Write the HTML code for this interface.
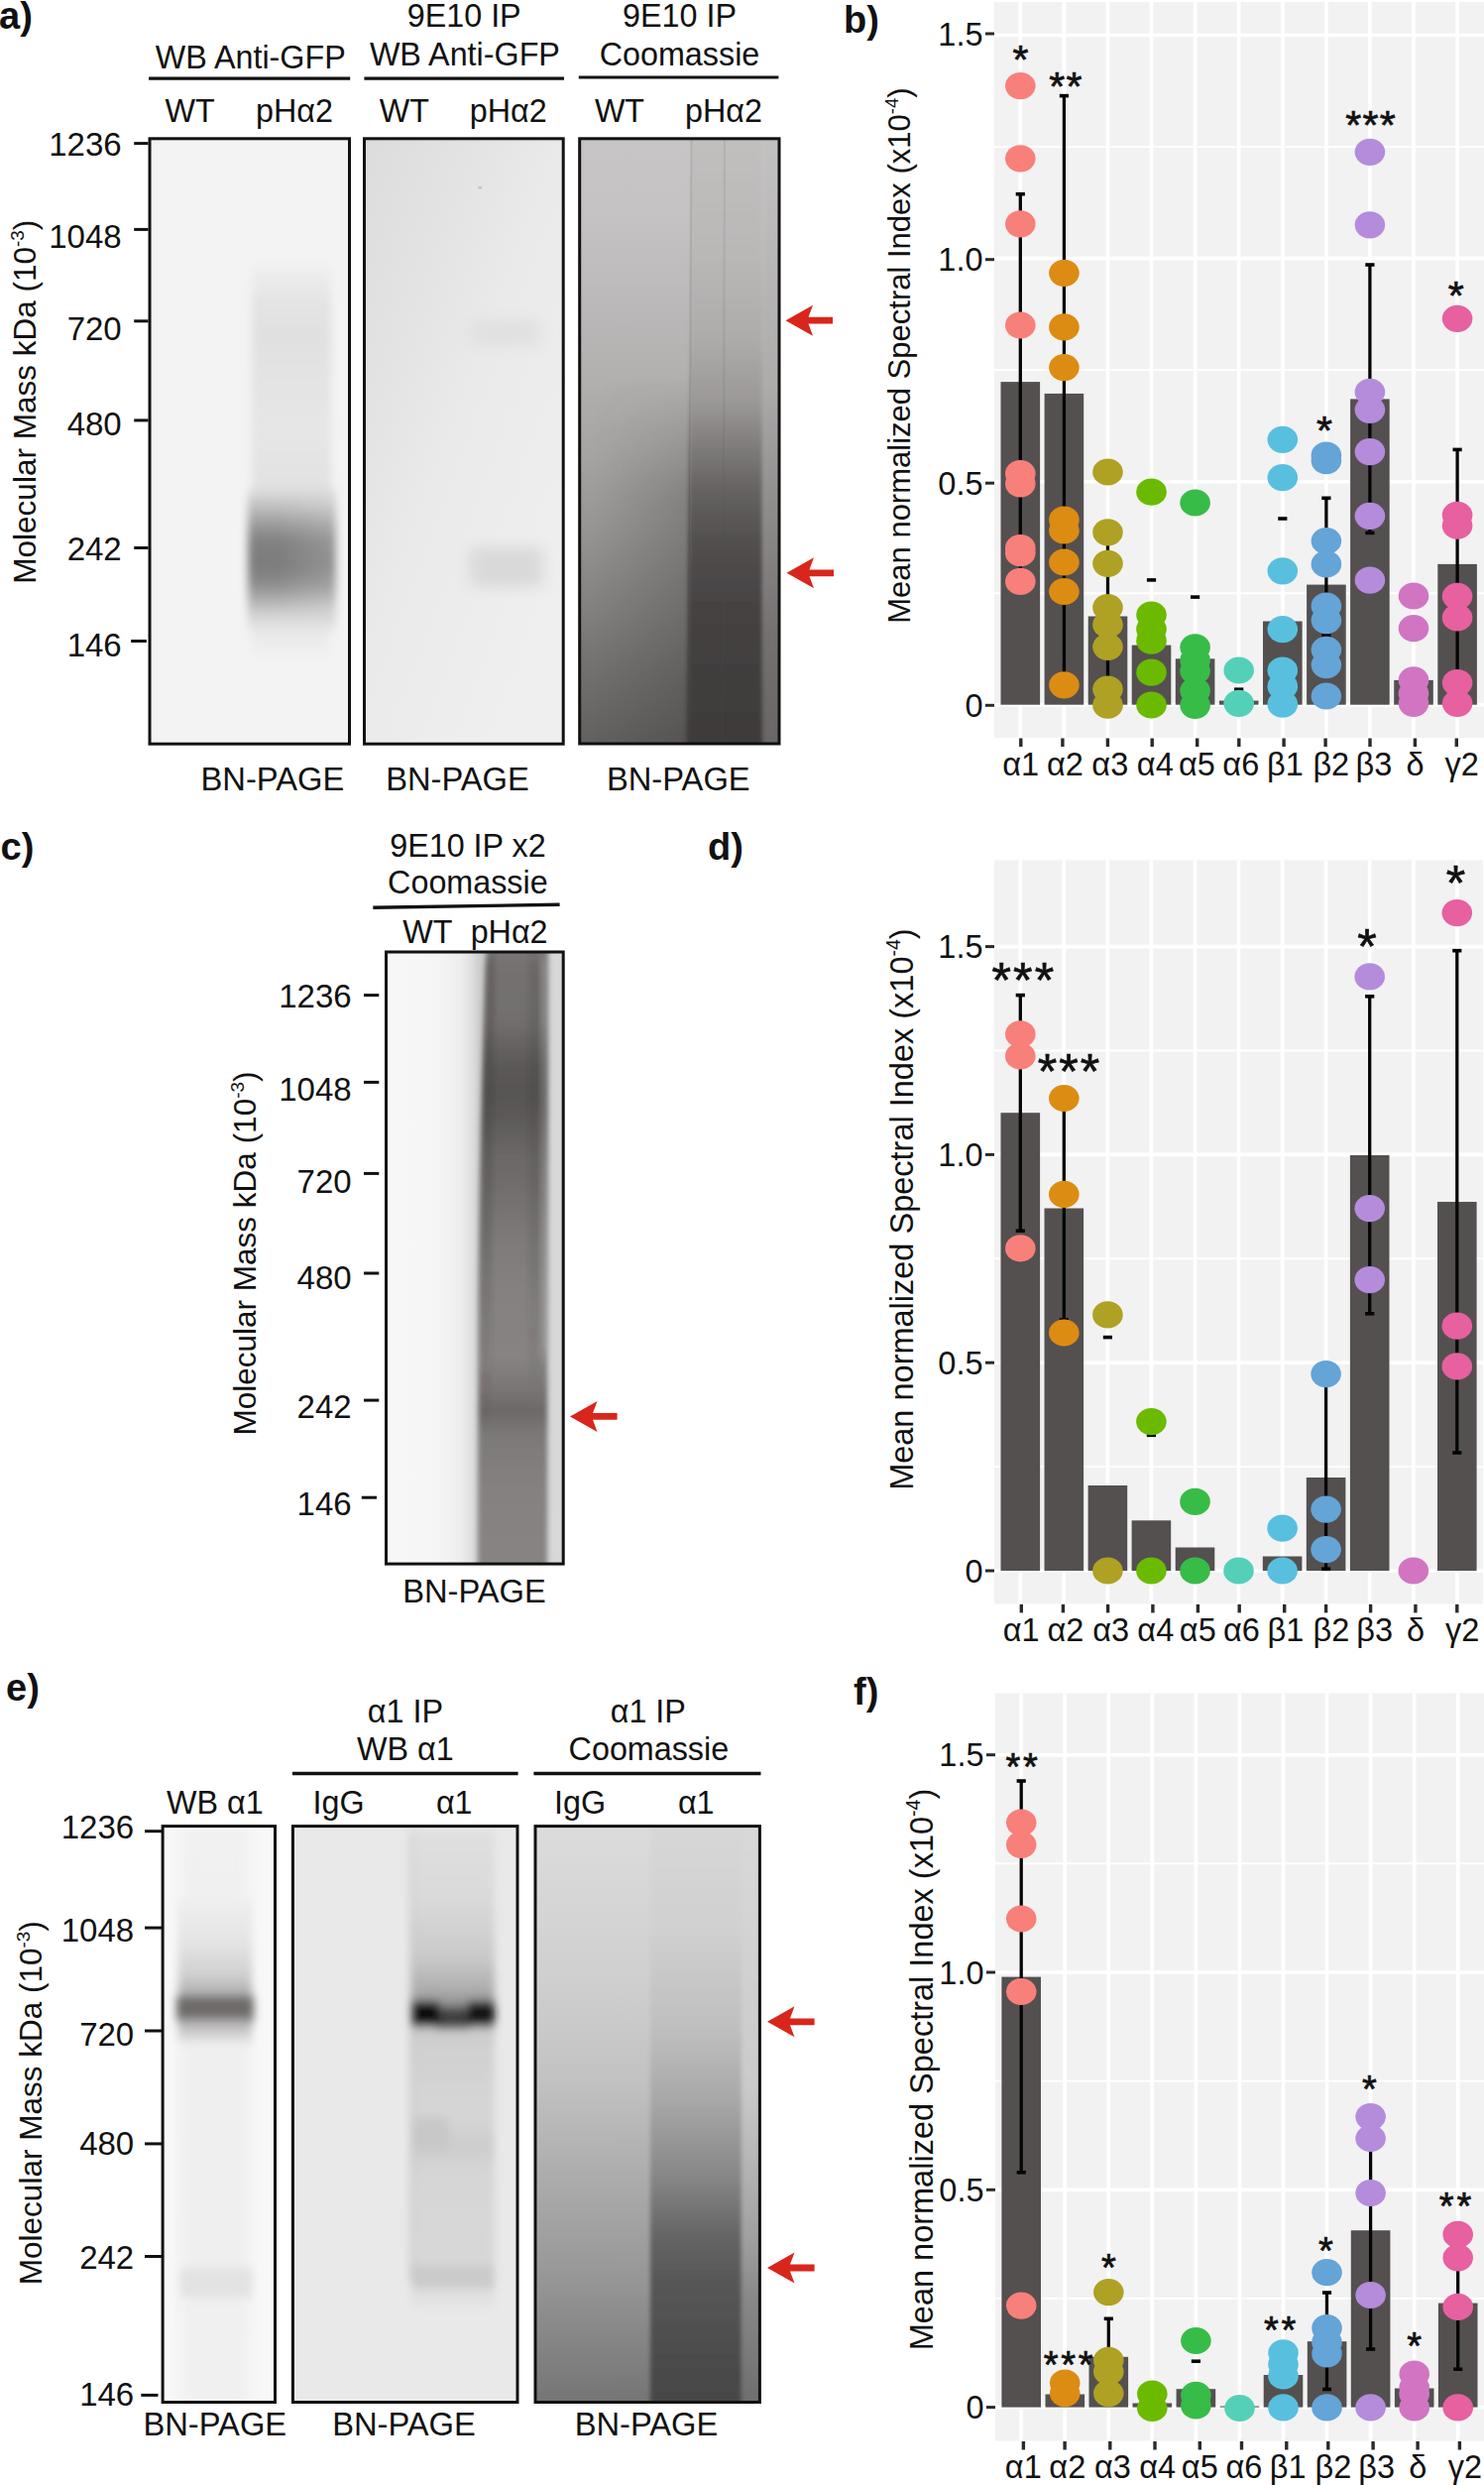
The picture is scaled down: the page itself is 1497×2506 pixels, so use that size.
<!DOCTYPE html>
<html><head><meta charset="utf-8"><title>Figure</title>
<style>
html,body{margin:0;padding:0;background:#fff;}
svg{display:block;}
text{font-family:"Liberation Sans", sans-serif;}
</style></head><body>
<svg width="1497" height="2506" viewBox="0 0 1497 2506">
<defs><clipPath id="c1"><rect x="151.5" y="140.3" width="200.5" height="609.4000000000001"/></clipPath><filter id="f2" x="-50%" y="-50%" width="200%" height="200%"><feGaussianBlur stdDeviation="4 6"/></filter><linearGradient id="g3" x1="0" y1="0" x2="0" y2="1"><stop offset="0" stop-color="#EFEFEF" stop-opacity="1"/><stop offset="0.15" stop-color="#E4E4E4" stop-opacity="1"/><stop offset="0.3" stop-color="#E0E0E0" stop-opacity="1"/><stop offset="0.45" stop-color="#E3E3E3" stop-opacity="1"/><stop offset="0.7" stop-color="#E6E6E6" stop-opacity="1"/><stop offset="1" stop-color="#E0E0E0" stop-opacity="1"/></linearGradient><linearGradient id="g4" x1="0" y1="0" x2="0" y2="1"><stop offset="0" stop-color="#DADADA" stop-opacity="1"/><stop offset="0.12" stop-color="#BEBEBE" stop-opacity="1"/><stop offset="0.25" stop-color="#999999" stop-opacity="1"/><stop offset="0.37" stop-color="#808080" stop-opacity="1"/><stop offset="0.55" stop-color="#7C7C7C" stop-opacity="1"/><stop offset="0.68" stop-color="#8E8E8E" stop-opacity="1"/><stop offset="0.8" stop-color="#B4B4B4" stop-opacity="1"/><stop offset="0.9" stop-color="#D4D4D4" stop-opacity="1"/><stop offset="1" stop-color="#E6E6E6" stop-opacity="1"/></linearGradient><linearGradient id="g5" x1="0" y1="0" x2="0" y2="1"><stop offset="0" stop-color="#E6E6E6" stop-opacity="1"/><stop offset="1" stop-color="#F1F1F1" stop-opacity="1"/></linearGradient><linearGradient id="g6" x1="0" y1="0" x2="1" y2="0"><stop offset="0" stop-color="#FFFFFF" stop-opacity="0"/><stop offset="1" stop-color="#FFFFFF" stop-opacity="0.18"/></linearGradient><clipPath id="c7"><rect x="368" y="140.3" width="199.70000000000005" height="609.4000000000001"/></clipPath><linearGradient id="g8" x1="0" y1="0" x2="0.8" y2="0.9"><stop offset="0" stop-color="#DCDCDC" stop-opacity="1"/><stop offset="0.3" stop-color="#E3E3E3" stop-opacity="1"/><stop offset="0.55" stop-color="#EAEAEA" stop-opacity="1"/><stop offset="1" stop-color="#EFEFEF" stop-opacity="1"/></linearGradient><filter id="f9" x="-50%" y="-50%" width="200%" height="200%"><feGaussianBlur stdDeviation="8 7"/></filter><clipPath id="c10"><rect x="585.2" y="140.3" width="200.29999999999995" height="609.2"/></clipPath><linearGradient id="g11" x1="0" y1="0" x2="0" y2="1"><stop offset="0" stop-color="#C7C5C5" stop-opacity="1"/><stop offset="0.12" stop-color="#C5C3C3" stop-opacity="1"/><stop offset="0.24" stop-color="#BDBBBB" stop-opacity="1"/><stop offset="0.4" stop-color="#B2AFAF" stop-opacity="1"/><stop offset="0.52" stop-color="#A6A3A3" stop-opacity="1"/><stop offset="0.64" stop-color="#979494" stop-opacity="1"/><stop offset="0.76" stop-color="#858282" stop-opacity="1"/><stop offset="0.88" stop-color="#726F6F" stop-opacity="1"/><stop offset="1" stop-color="#625F5F" stop-opacity="1"/></linearGradient><filter id="f12" x="-50%" y="-50%" width="200%" height="200%"><feGaussianBlur stdDeviation="2 3"/></filter><linearGradient id="g13" x1="0" y1="0" x2="0" y2="1"><stop offset="0" stop-color="#C2BFBF" stop-opacity="1"/><stop offset="0.2" stop-color="#BAB7B7" stop-opacity="1"/><stop offset="0.33" stop-color="#AEABAB" stop-opacity="1"/><stop offset="0.43" stop-color="#9C9898" stop-opacity="1"/><stop offset="0.5" stop-color="#807C7C" stop-opacity="1"/><stop offset="0.57" stop-color="#666262" stop-opacity="1"/><stop offset="0.65" stop-color="#534F4F" stop-opacity="1"/><stop offset="0.75" stop-color="#474343" stop-opacity="1"/><stop offset="0.88" stop-color="#413D3D" stop-opacity="1"/><stop offset="1" stop-color="#3D3939" stop-opacity="1"/></linearGradient><linearGradient id="g14" x1="0" y1="0" x2="0" y2="1"><stop offset="0" stop-color="#C4C2C2" stop-opacity="1"/><stop offset="0.4" stop-color="#AEABAB" stop-opacity="1"/><stop offset="0.6" stop-color="#8E8B8B" stop-opacity="1"/><stop offset="0.8" stop-color="#747070" stop-opacity="1"/><stop offset="1" stop-color="#686464" stop-opacity="1"/></linearGradient><linearGradient id="g16" x1="0" y1="0" x2="0" y2="1"><stop offset="0" stop-color="#000000" stop-opacity="1"/><stop offset="0.3" stop-color="#FFFFFF" stop-opacity="1"/><stop offset="1" stop-color="#FFFFFF" stop-opacity="1"/></linearGradient><mask id="m15" maskUnits="userSpaceOnUse" x="580" y="380" width="130" height="400"><rect x="580" y="380" width="130" height="400" fill="url(#g16)"/></mask><linearGradient id="g17" x1="0" y1="0" x2="1" y2="0"><stop offset="0" stop-color="#2A2626" stop-opacity="0"/><stop offset="1" stop-color="#2A2626" stop-opacity="0.22"/></linearGradient><clipPath id="c18"><rect x="390" y="960.5" width="177.70000000000005" height="616.0999999999999"/></clipPath><linearGradient id="g19" x1="0" y1="0" x2="1" y2="0"><stop offset="0" stop-color="#F8F8F8" stop-opacity="1"/><stop offset="0.3" stop-color="#F5F5F5" stop-opacity="1"/><stop offset="0.42" stop-color="#EEEEEE" stop-opacity="1"/><stop offset="0.48" stop-color="#E0E0E0" stop-opacity="1"/><stop offset="0.52" stop-color="#CFCFCF" stop-opacity="1"/><stop offset="0.6" stop-color="#C8C8C8" stop-opacity="1"/><stop offset="0.88" stop-color="#D4D4D4" stop-opacity="1"/><stop offset="1" stop-color="#DADADA" stop-opacity="1"/></linearGradient><filter id="f20" x="-50%" y="-50%" width="200%" height="200%"><feGaussianBlur stdDeviation="2.5 4"/></filter><linearGradient id="g21" x1="0" y1="0" x2="0" y2="1"><stop offset="0" stop-color="#7A7676" stop-opacity="1"/><stop offset="0.06" stop-color="#747070" stop-opacity="1"/><stop offset="0.125" stop-color="#726E6E" stop-opacity="1"/><stop offset="0.1875" stop-color="#5E5A5A" stop-opacity="1"/><stop offset="0.234" stop-color="#585454" stop-opacity="1"/><stop offset="0.281" stop-color="#5E5A5A" stop-opacity="1"/><stop offset="0.328" stop-color="#6A6666" stop-opacity="1"/><stop offset="0.39" stop-color="#726E6E" stop-opacity="1"/><stop offset="0.469" stop-color="#7E7A7A" stop-opacity="1"/><stop offset="0.547" stop-color="#858181" stop-opacity="1"/><stop offset="0.656" stop-color="#878383" stop-opacity="1"/><stop offset="0.703" stop-color="#7A7676" stop-opacity="1"/><stop offset="0.74" stop-color="#6C6868" stop-opacity="1"/><stop offset="0.773" stop-color="#7C7878" stop-opacity="1"/><stop offset="0.86" stop-color="#858181" stop-opacity="1"/><stop offset="1" stop-color="#888484" stop-opacity="1"/></linearGradient><filter id="f22" x="-50%" y="-50%" width="200%" height="200%"><feGaussianBlur stdDeviation="2 6"/></filter><linearGradient id="g23" x1="0" y1="0" x2="0" y2="1"><stop offset="0" stop-color="#3A3636" stop-opacity="0.25"/><stop offset="0.6" stop-color="#3A3636" stop-opacity="0.2"/><stop offset="1" stop-color="#3A3636" stop-opacity="0"/></linearGradient><linearGradient id="g24" x1="0" y1="0" x2="0" y2="1"><stop offset="0" stop-color="#3A3636" stop-opacity="0.15"/><stop offset="0.7" stop-color="#3A3636" stop-opacity="0.12"/><stop offset="1" stop-color="#3A3636" stop-opacity="0"/></linearGradient><clipPath id="c25"><rect x="164.6" y="1842.1" width="112.4" height="579.9000000000001"/></clipPath><filter id="f26" x="-50%" y="-50%" width="200%" height="200%"><feGaussianBlur stdDeviation="7 3"/></filter><linearGradient id="g27" x1="0" y1="0" x2="0" y2="1"><stop offset="0" stop-color="#F1F1F1" stop-opacity="1"/><stop offset="0.6" stop-color="#EFEFEF" stop-opacity="1"/><stop offset="1" stop-color="#F1F1F1" stop-opacity="1"/></linearGradient><filter id="f28" x="-50%" y="-50%" width="200%" height="200%"><feGaussianBlur stdDeviation="4 5"/></filter><linearGradient id="g29" x1="0" y1="0" x2="0" y2="1"><stop offset="0" stop-color="#EFEFEF" stop-opacity="1"/><stop offset="0.4" stop-color="#E4E4E4" stop-opacity="1"/><stop offset="0.7" stop-color="#D0D0D0" stop-opacity="1"/><stop offset="0.88" stop-color="#ACACAC" stop-opacity="1"/><stop offset="1" stop-color="#8A8686" stop-opacity="1"/></linearGradient><linearGradient id="g30" x1="0" y1="0" x2="0" y2="1"><stop offset="0" stop-color="#A8A6A6" stop-opacity="1"/><stop offset="1" stop-color="#EFEFEF" stop-opacity="1"/></linearGradient><clipPath id="c31"><rect x="295.9" y="1842.1" width="225.60000000000002" height="579.9000000000001"/></clipPath><filter id="f32" x="-50%" y="-50%" width="200%" height="200%"><feGaussianBlur stdDeviation="4 5"/></filter><linearGradient id="g33" x1="0" y1="0" x2="0" y2="1"><stop offset="0" stop-color="#E0E0E0" stop-opacity="1"/><stop offset="0.4" stop-color="#D9D9D9" stop-opacity="1"/><stop offset="0.7" stop-color="#C9C9C9" stop-opacity="1"/><stop offset="0.88" stop-color="#ACACAC" stop-opacity="1"/><stop offset="1" stop-color="#808080" stop-opacity="1"/></linearGradient><linearGradient id="g34" x1="0" y1="0" x2="0" y2="1"><stop offset="0" stop-color="#C4C4C4" stop-opacity="1"/><stop offset="0.12" stop-color="#D0D0D0" stop-opacity="1"/><stop offset="0.35" stop-color="#D6D6D6" stop-opacity="1"/><stop offset="0.45" stop-color="#CDCDCD" stop-opacity="1"/><stop offset="0.55" stop-color="#D6D6D6" stop-opacity="1"/><stop offset="0.85" stop-color="#D8D8D8" stop-opacity="1"/><stop offset="1" stop-color="#E4E4E4" stop-opacity="1"/></linearGradient><clipPath id="c35"><rect x="540.5" y="1842.1" width="225.39999999999998" height="579.9000000000001"/></clipPath><linearGradient id="g36" x1="0" y1="0" x2="0" y2="1"><stop offset="0" stop-color="#DCDCDC" stop-opacity="1"/><stop offset="0.27" stop-color="#CFCFCF" stop-opacity="1"/><stop offset="0.44" stop-color="#C2C2C2" stop-opacity="1"/><stop offset="0.61" stop-color="#ACACAC" stop-opacity="1"/><stop offset="0.78" stop-color="#979797" stop-opacity="1"/><stop offset="0.95" stop-color="#7C7C7C" stop-opacity="1"/><stop offset="1" stop-color="#747474" stop-opacity="1"/></linearGradient><filter id="f37" x="-50%" y="-50%" width="200%" height="200%"><feGaussianBlur stdDeviation="2 3"/></filter><linearGradient id="g38" x1="0" y1="0" x2="0" y2="1"><stop offset="0" stop-color="#D8D8D8" stop-opacity="1"/><stop offset="0.19" stop-color="#D0D0D0" stop-opacity="1"/><stop offset="0.36" stop-color="#BEBEBE" stop-opacity="1"/><stop offset="0.48" stop-color="#A6A6A6" stop-opacity="1"/><stop offset="0.6" stop-color="#868686" stop-opacity="1"/><stop offset="0.7" stop-color="#646464" stop-opacity="1"/><stop offset="0.78" stop-color="#565656" stop-opacity="1"/><stop offset="0.9" stop-color="#4C4C4C" stop-opacity="1"/><stop offset="1" stop-color="#444444" stop-opacity="1"/></linearGradient><linearGradient id="g39" x1="0" y1="0" x2="0" y2="1"><stop offset="0" stop-color="#DADADA" stop-opacity="1"/><stop offset="0.45" stop-color="#CACACA" stop-opacity="1"/><stop offset="0.7" stop-color="#A0A0A0" stop-opacity="1"/><stop offset="0.8" stop-color="#888888" stop-opacity="1"/><stop offset="1" stop-color="#6A6A6A" stop-opacity="1"/></linearGradient></defs>
<rect x="0" y="0" width="1497" height="2506" fill="#FFFFFF"/>
<text x="-1.0" y="28.7" font-size="38" text-anchor="start" font-weight="bold" fill="#111" >a)</text>
<text x="252.7" y="68.5" font-size="32.3" text-anchor="middle" font-weight="normal" fill="#111" >WB Anti-GFP</text>
<line x1="150.1" y1="79.1" x2="353.2" y2="79.1" stroke="#111" stroke-width="3.4" />
<text x="468.2" y="27.0" font-size="32.3" text-anchor="middle" font-weight="normal" fill="#111" >9E10 IP</text>
<text x="468.9" y="65.8" font-size="32.3" text-anchor="middle" font-weight="normal" fill="#111" >WB Anti-GFP</text>
<line x1="367.4" y1="79.2" x2="569.0" y2="79.2" stroke="#111" stroke-width="3.2" />
<text x="685.5" y="27.0" font-size="32.3" text-anchor="middle" font-weight="normal" fill="#111" >9E10 IP</text>
<text x="685.5" y="65.8" font-size="32.3" text-anchor="middle" font-weight="normal" fill="#111" >Coomassie</text>
<line x1="583.8" y1="78.0" x2="785.4" y2="78.0" stroke="#111" stroke-width="3.2" />
<text x="191.7" y="122.6" font-size="32.3" text-anchor="middle" font-weight="normal" fill="#111" >WT</text>
<text x="407.9" y="122.6" font-size="32.3" text-anchor="middle" font-weight="normal" fill="#111" >WT</text>
<text x="625.0" y="122.6" font-size="32.3" text-anchor="middle" font-weight="normal" fill="#111" >WT</text>
<text x="296.9" y="122.6" font-size="32.3" text-anchor="middle" font-weight="normal" fill="#111" >pHα2</text>
<text x="512.7" y="122.6" font-size="32.3" text-anchor="middle" font-weight="normal" fill="#111" >pHα2</text>
<text x="730.0" y="122.6" font-size="32.3" text-anchor="middle" font-weight="normal" fill="#111" >pHα2</text>
<g clip-path="url(#c1)">
<rect x="149.5" y="138.3" width="204.5" height="613.4" fill="#F3F3F3" />
<g filter="url(#f2)">
<rect x="254.0" y="268.0" width="80.0" height="240.0" fill="url(#g3)" />
<rect x="250.0" y="495.0" width="89.0" height="140.0" fill="url(#g4)" />
<rect x="254.0" y="632.0" width="78.0" height="30.0" fill="url(#g5)" />
<rect x="280.0" y="500.0" width="60.0" height="120.0" fill="url(#g6)" />
</g>
</g>
<rect x="151.0" y="139.8" width="201.5" height="610.4" fill="none" stroke="#111" stroke-width="3"/>
<g clip-path="url(#c7)">
<rect x="366.0" y="138.3" width="203.7" height="613.4" fill="url(#g8)" />
<g filter="url(#f9)">
<rect x="474.0" y="322.0" width="72.0" height="28.0" fill="#E1E1E1" />
<rect x="474.0" y="552.0" width="74.0" height="40.0" fill="#D9D9D9" />
</g>
<rect x="482.5" y="188.0" width="3.5" height="2.5" fill="#C4C4C4" />
</g>
<rect x="367.5" y="139.8" width="200.7" height="610.4" fill="none" stroke="#111" stroke-width="3"/>
<g clip-path="url(#c10)">
<rect x="583.2" y="138.3" width="204.3" height="613.2" fill="url(#g11)" />
<g filter="url(#f12)">
<path d="M697,130 L769,130 L769,770 L693,770 Z" fill="url(#g13)"/>
<rect x="771.0" y="130.0" width="15.0" height="640.0" fill="url(#g14)" />
</g>
<rect x="600.0" y="380.0" width="96.0" height="380.0" fill="url(#g17)" mask="url(#m15)"/>
<line x1="697.5" y1="140.0" x2="694.5" y2="750.0" stroke="#555" stroke-width="2" opacity="0.15"/>
<line x1="731.0" y1="140.0" x2="729.0" y2="750.0" stroke="#555" stroke-width="2" opacity="0.12"/>
</g>
<rect x="584.7" y="139.8" width="201.3" height="610.2" fill="none" stroke="#111" stroke-width="3"/>
<line x1="135.2" y1="144.6" x2="149.5" y2="144.6" stroke="#111" stroke-width="3" />
<text x="122.7" y="156.6" font-size="33" text-anchor="end" font-weight="normal" fill="#111" >1236</text>
<line x1="135.2" y1="231.4" x2="149.5" y2="231.4" stroke="#111" stroke-width="3" />
<text x="122.7" y="250.1" font-size="33" text-anchor="end" font-weight="normal" fill="#111" >1048</text>
<line x1="135.2" y1="323.8" x2="149.5" y2="323.8" stroke="#111" stroke-width="3" />
<text x="122.7" y="342.6" font-size="33" text-anchor="end" font-weight="normal" fill="#111" >720</text>
<line x1="135.2" y1="423.9" x2="149.5" y2="423.9" stroke="#111" stroke-width="3" />
<text x="122.7" y="439.4" font-size="33" text-anchor="end" font-weight="normal" fill="#111" >480</text>
<line x1="135.2" y1="552.5" x2="149.5" y2="552.5" stroke="#111" stroke-width="3" />
<text x="122.7" y="564.8" font-size="33" text-anchor="end" font-weight="normal" fill="#111" >242</text>
<line x1="132.1" y1="646.5" x2="147.9" y2="646.5" stroke="#111" stroke-width="3" />
<text x="122.7" y="662.0" font-size="33" text-anchor="end" font-weight="normal" fill="#111" >146</text>
<text transform="translate(36.3,405.2) rotate(-90)" x="0" y="0" font-size="31.5" text-anchor="middle" fill="#111">Molecular Mass kDa (10<tspan font-size="18.9" dy="-12.0">-3</tspan><tspan dy="12.0">)</tspan></text>
<text x="274.9" y="796.8" font-size="32.7" text-anchor="middle" font-weight="normal" fill="#111" >BN-PAGE</text>
<text x="461.5" y="796.8" font-size="32.7" text-anchor="middle" font-weight="normal" fill="#111" >BN-PAGE</text>
<text x="684.3" y="796.8" font-size="32.7" text-anchor="middle" font-weight="normal" fill="#111" >BN-PAGE</text>
<path d="M792.5,323.2 L820.0,307.7 L815.5,319.8 L840.1,319.8 L840.1,326.6 L815.5,326.6 L820.0,338.7 Z" fill="#D9261C"/>
<path d="M793.5,577.8 L821.0,562.3 L816.5,574.4 L841.1,574.4 L841.1,581.2 L816.5,581.2 L821.0,593.3 Z" fill="#D9261C"/>
<text x="851.0" y="33.0" font-size="38" text-anchor="start" font-weight="bold" fill="#111" >b)</text>
<rect x="1003.0" y="2.0" width="494.0" height="742.0" fill="#F2F2F2" />
<line x1="1003.0" y1="598.2" x2="1497.0" y2="598.2" stroke="#FFFFFF" stroke-width="1.9" />
<line x1="1003.0" y1="373.1" x2="1497.0" y2="373.1" stroke="#FFFFFF" stroke-width="1.9" />
<line x1="1003.0" y1="148.1" x2="1497.0" y2="148.1" stroke="#FFFFFF" stroke-width="1.9" />
<line x1="1003.0" y1="710.7" x2="1497.0" y2="710.7" stroke="#FFFFFF" stroke-width="3.6" />
<line x1="1003.0" y1="485.7" x2="1497.0" y2="485.7" stroke="#FFFFFF" stroke-width="3.6" />
<line x1="1003.0" y1="260.6" x2="1497.0" y2="260.6" stroke="#FFFFFF" stroke-width="3.6" />
<line x1="1003.0" y1="35.5" x2="1497.0" y2="35.5" stroke="#FFFFFF" stroke-width="3.6" />
<line x1="1029.3" y1="2.0" x2="1029.3" y2="744.0" stroke="#FFFFFF" stroke-width="3.7" />
<line x1="1073.4" y1="2.0" x2="1073.4" y2="744.0" stroke="#FFFFFF" stroke-width="3.7" />
<line x1="1117.5" y1="2.0" x2="1117.5" y2="744.0" stroke="#FFFFFF" stroke-width="3.7" />
<line x1="1161.5" y1="2.0" x2="1161.5" y2="744.0" stroke="#FFFFFF" stroke-width="3.7" />
<line x1="1205.6" y1="2.0" x2="1205.6" y2="744.0" stroke="#FFFFFF" stroke-width="3.7" />
<line x1="1249.7" y1="2.0" x2="1249.7" y2="744.0" stroke="#FFFFFF" stroke-width="3.7" />
<line x1="1293.8" y1="2.0" x2="1293.8" y2="744.0" stroke="#FFFFFF" stroke-width="3.7" />
<line x1="1337.9" y1="2.0" x2="1337.9" y2="744.0" stroke="#FFFFFF" stroke-width="3.7" />
<line x1="1381.9" y1="2.0" x2="1381.9" y2="744.0" stroke="#FFFFFF" stroke-width="3.7" />
<line x1="1426.0" y1="2.0" x2="1426.0" y2="744.0" stroke="#FFFFFF" stroke-width="3.7" />
<line x1="1470.1" y1="2.0" x2="1470.1" y2="744.0" stroke="#FFFFFF" stroke-width="3.7" />
<rect x="1009.5" y="385.1" width="39.6" height="325.6" fill="#545050" />
<rect x="1053.6" y="396.9" width="39.6" height="313.8" fill="#545050" />
<rect x="1097.7" y="621.5" width="39.6" height="89.2" fill="#545050" />
<rect x="1141.7" y="650.6" width="39.6" height="60.1" fill="#545050" />
<rect x="1185.8" y="664.3" width="39.6" height="46.4" fill="#545050" />
<rect x="1229.9" y="706.6" width="39.6" height="4.1" fill="#545050" />
<rect x="1274.0" y="626.5" width="39.6" height="84.2" fill="#545050" />
<rect x="1318.1" y="589.6" width="39.6" height="121.1" fill="#545050" />
<rect x="1362.1" y="402.4" width="39.6" height="308.3" fill="#545050" />
<rect x="1406.2" y="685.9" width="39.6" height="24.8" fill="#545050" />
<rect x="1450.3" y="568.9" width="39.6" height="141.8" fill="#545050" />
<line x1="1029.3" y1="195.7" x2="1029.3" y2="575.0" stroke="#050505" stroke-width="3.3" />
<line x1="1024.7" y1="195.7" x2="1033.9" y2="195.7" stroke="#050505" stroke-width="3.6" />
<line x1="1024.7" y1="575.0" x2="1033.9" y2="575.0" stroke="#050505" stroke-width="3.6" />
<line x1="1073.4" y1="96.6" x2="1073.4" y2="680.0" stroke="#050505" stroke-width="3.3" />
<line x1="1068.8" y1="96.6" x2="1078.0" y2="96.6" stroke="#050505" stroke-width="3.6" />
<line x1="1068.8" y1="680.0" x2="1078.0" y2="680.0" stroke="#050505" stroke-width="3.6" />
<line x1="1117.5" y1="540.0" x2="1117.5" y2="703.0" stroke="#050505" stroke-width="3.3" />
<line x1="1112.9" y1="540.0" x2="1122.1" y2="540.0" stroke="#050505" stroke-width="3.6" />
<line x1="1112.9" y1="703.0" x2="1122.1" y2="703.0" stroke="#050505" stroke-width="3.6" />
<line x1="1156.9" y1="584.9" x2="1166.1" y2="584.9" stroke="#050505" stroke-width="3.6" />
<line x1="1201.0" y1="602.1" x2="1210.2" y2="602.1" stroke="#050505" stroke-width="3.6" />
<line x1="1245.1" y1="695.2" x2="1254.3" y2="695.2" stroke="#050505" stroke-width="3.6" />
<line x1="1289.2" y1="523.0" x2="1298.4" y2="523.0" stroke="#050505" stroke-width="3.6" />
<line x1="1337.9" y1="502.3" x2="1337.9" y2="640.9" stroke="#050505" stroke-width="3.3" />
<line x1="1333.3" y1="502.3" x2="1342.5" y2="502.3" stroke="#050505" stroke-width="3.6" />
<line x1="1333.3" y1="640.9" x2="1342.5" y2="640.9" stroke="#050505" stroke-width="3.6" />
<line x1="1381.9" y1="267.0" x2="1381.9" y2="537.4" stroke="#050505" stroke-width="3.3" />
<line x1="1377.3" y1="267.0" x2="1386.5" y2="267.0" stroke="#050505" stroke-width="3.6" />
<line x1="1377.3" y1="537.4" x2="1386.5" y2="537.4" stroke="#050505" stroke-width="3.6" />
<line x1="1470.1" y1="453.4" x2="1470.1" y2="684.4" stroke="#050505" stroke-width="3.3" />
<line x1="1465.5" y1="453.4" x2="1474.7" y2="453.4" stroke="#050505" stroke-width="3.6" />
<line x1="1465.5" y1="684.4" x2="1474.7" y2="684.4" stroke="#050505" stroke-width="3.6" />
<ellipse cx="1029.3" cy="86.6" rx="15.3" ry="13.6" fill="#F8807A"/>
<ellipse cx="1029.3" cy="159.8" rx="15.3" ry="13.6" fill="#F8807A"/>
<ellipse cx="1029.3" cy="225.8" rx="15.3" ry="13.6" fill="#F8807A"/>
<ellipse cx="1029.3" cy="328.0" rx="15.3" ry="13.6" fill="#F8807A"/>
<ellipse cx="1029.3" cy="477.7" rx="15.3" ry="13.6" fill="#F8807A"/>
<ellipse cx="1029.3" cy="487.8" rx="15.3" ry="13.6" fill="#F8807A"/>
<ellipse cx="1029.3" cy="552.7" rx="15.3" ry="13.6" fill="#F8807A"/>
<ellipse cx="1029.3" cy="557.7" rx="15.3" ry="13.6" fill="#F8807A"/>
<ellipse cx="1029.3" cy="586.4" rx="15.3" ry="13.6" fill="#F8807A"/>
<ellipse cx="1073.4" cy="275.3" rx="15.3" ry="13.6" fill="#DC8C12"/>
<ellipse cx="1073.4" cy="329.9" rx="15.3" ry="13.6" fill="#DC8C12"/>
<ellipse cx="1073.4" cy="370.6" rx="15.3" ry="13.6" fill="#DC8C12"/>
<ellipse cx="1073.4" cy="524.0" rx="15.3" ry="13.6" fill="#DC8C12"/>
<ellipse cx="1073.4" cy="535.0" rx="15.3" ry="13.6" fill="#DC8C12"/>
<ellipse cx="1073.4" cy="567.0" rx="15.3" ry="13.6" fill="#DC8C12"/>
<ellipse cx="1073.4" cy="596.5" rx="15.3" ry="13.6" fill="#DC8C12"/>
<ellipse cx="1073.4" cy="690.8" rx="15.3" ry="13.6" fill="#DC8C12"/>
<ellipse cx="1117.5" cy="476.0" rx="15.3" ry="13.6" fill="#AFA124"/>
<ellipse cx="1117.5" cy="536.8" rx="15.3" ry="13.6" fill="#AFA124"/>
<ellipse cx="1117.5" cy="568.3" rx="15.3" ry="13.6" fill="#AFA124"/>
<ellipse cx="1117.5" cy="612.6" rx="15.3" ry="13.6" fill="#AFA124"/>
<ellipse cx="1117.5" cy="630.0" rx="15.3" ry="13.6" fill="#AFA124"/>
<ellipse cx="1117.5" cy="652.3" rx="15.3" ry="13.6" fill="#AFA124"/>
<ellipse cx="1117.5" cy="695.0" rx="15.3" ry="13.6" fill="#AFA124"/>
<ellipse cx="1117.5" cy="711.2" rx="15.3" ry="13.6" fill="#AFA124"/>
<ellipse cx="1161.5" cy="496.2" rx="15.3" ry="13.6" fill="#6BBA00"/>
<ellipse cx="1161.5" cy="620.0" rx="15.3" ry="13.6" fill="#6BBA00"/>
<ellipse cx="1161.5" cy="634.4" rx="15.3" ry="13.6" fill="#6BBA00"/>
<ellipse cx="1161.5" cy="646.2" rx="15.3" ry="13.6" fill="#6BBA00"/>
<ellipse cx="1161.5" cy="678.2" rx="15.3" ry="13.6" fill="#6BBA00"/>
<ellipse cx="1161.5" cy="711.0" rx="15.3" ry="13.6" fill="#6BBA00"/>
<ellipse cx="1205.6" cy="507.0" rx="15.3" ry="13.6" fill="#37BC48"/>
<ellipse cx="1205.6" cy="652.8" rx="15.3" ry="13.6" fill="#37BC48"/>
<ellipse cx="1205.6" cy="665.8" rx="15.3" ry="13.6" fill="#37BC48"/>
<ellipse cx="1205.6" cy="676.7" rx="15.3" ry="13.6" fill="#37BC48"/>
<ellipse cx="1205.6" cy="696.5" rx="15.3" ry="13.6" fill="#37BC48"/>
<ellipse cx="1205.6" cy="711.3" rx="15.3" ry="13.6" fill="#37BC48"/>
<ellipse cx="1249.7" cy="676.0" rx="15.3" ry="13.6" fill="#55D0B8"/>
<ellipse cx="1249.7" cy="709.3" rx="15.3" ry="13.6" fill="#55D0B8"/>
<ellipse cx="1293.8" cy="443.3" rx="15.3" ry="13.6" fill="#58C0DE"/>
<ellipse cx="1293.8" cy="481.7" rx="15.3" ry="13.6" fill="#58C0DE"/>
<ellipse cx="1293.8" cy="575.8" rx="15.3" ry="13.6" fill="#58C0DE"/>
<ellipse cx="1293.8" cy="634.6" rx="15.3" ry="13.6" fill="#58C0DE"/>
<ellipse cx="1293.8" cy="676.0" rx="15.3" ry="13.6" fill="#58C0DE"/>
<ellipse cx="1293.8" cy="692.2" rx="15.3" ry="13.6" fill="#58C0DE"/>
<ellipse cx="1293.8" cy="710.2" rx="15.3" ry="13.6" fill="#58C0DE"/>
<ellipse cx="1337.9" cy="459.2" rx="15.3" ry="13.6" fill="#64A4D6"/>
<ellipse cx="1337.9" cy="464.6" rx="15.3" ry="13.6" fill="#64A4D6"/>
<ellipse cx="1337.9" cy="545.5" rx="15.3" ry="13.6" fill="#64A4D6"/>
<ellipse cx="1337.9" cy="568.9" rx="15.3" ry="13.6" fill="#64A4D6"/>
<ellipse cx="1337.9" cy="611.2" rx="15.3" ry="13.6" fill="#64A4D6"/>
<ellipse cx="1337.9" cy="625.6" rx="15.3" ry="13.6" fill="#64A4D6"/>
<ellipse cx="1337.9" cy="655.3" rx="15.3" ry="13.6" fill="#64A4D6"/>
<ellipse cx="1337.9" cy="670.6" rx="15.3" ry="13.6" fill="#64A4D6"/>
<ellipse cx="1337.9" cy="702.0" rx="15.3" ry="13.6" fill="#64A4D6"/>
<ellipse cx="1381.9" cy="153.3" rx="15.3" ry="13.6" fill="#B58CDB"/>
<ellipse cx="1381.9" cy="226.8" rx="15.3" ry="13.6" fill="#B58CDB"/>
<ellipse cx="1381.9" cy="395.3" rx="15.3" ry="13.6" fill="#B58CDB"/>
<ellipse cx="1381.9" cy="413.3" rx="15.3" ry="13.6" fill="#B58CDB"/>
<ellipse cx="1381.9" cy="455.6" rx="15.3" ry="13.6" fill="#B58CDB"/>
<ellipse cx="1381.9" cy="520.3" rx="15.3" ry="13.6" fill="#B58CDB"/>
<ellipse cx="1381.9" cy="585.1" rx="15.3" ry="13.6" fill="#B58CDB"/>
<ellipse cx="1426.0" cy="601.0" rx="15.3" ry="13.6" fill="#D175C2"/>
<ellipse cx="1426.0" cy="633.7" rx="15.3" ry="13.6" fill="#D175C2"/>
<ellipse cx="1426.0" cy="685.9" rx="15.3" ry="13.6" fill="#D175C2"/>
<ellipse cx="1426.0" cy="699.4" rx="15.3" ry="13.6" fill="#D175C2"/>
<ellipse cx="1426.0" cy="709.3" rx="15.3" ry="13.6" fill="#D175C2"/>
<ellipse cx="1470.1" cy="321.3" rx="15.3" ry="13.6" fill="#E760A0"/>
<ellipse cx="1470.1" cy="519.4" rx="15.3" ry="13.6" fill="#E760A0"/>
<ellipse cx="1470.1" cy="530.2" rx="15.3" ry="13.6" fill="#E760A0"/>
<ellipse cx="1470.1" cy="601.3" rx="15.3" ry="13.6" fill="#E760A0"/>
<ellipse cx="1470.1" cy="622.9" rx="15.3" ry="13.6" fill="#E760A0"/>
<ellipse cx="1470.1" cy="688.6" rx="15.3" ry="13.6" fill="#E760A0"/>
<ellipse cx="1470.1" cy="709.3" rx="15.3" ry="13.6" fill="#E760A0"/>
<text x="1029.6" y="74.1" font-size="41" text-anchor="middle" font-weight="normal" fill="#111" stroke="#111" stroke-width="0.7">*</text>
<text x="1066.2" y="100.6" font-size="41" text-anchor="middle" font-weight="normal" fill="#111" stroke="#111" stroke-width="0.7">*</text>
<text x="1083.5" y="100.6" font-size="41" text-anchor="middle" font-weight="normal" fill="#111" stroke="#111" stroke-width="0.7">*</text>
<text x="1335.9" y="448.1" font-size="41" text-anchor="middle" font-weight="normal" fill="#111" stroke="#111" stroke-width="0.7">*</text>
<text x="1365.2" y="140.1" font-size="41" text-anchor="middle" font-weight="normal" fill="#111" stroke="#111" stroke-width="0.7">*</text>
<text x="1382.5" y="140.1" font-size="41" text-anchor="middle" font-weight="normal" fill="#111" stroke="#111" stroke-width="0.7">*</text>
<text x="1399.8" y="140.1" font-size="41" text-anchor="middle" font-weight="normal" fill="#111" stroke="#111" stroke-width="0.7">*</text>
<text x="1468.7" y="312.1" font-size="41" text-anchor="middle" font-weight="normal" fill="#111" stroke="#111" stroke-width="0.7">*</text>
<line x1="994.0" y1="711.3" x2="1003.0" y2="711.3" stroke="#2a2a2a" stroke-width="3" />
<text x="991.5" y="723.0" font-size="32.5" text-anchor="end" font-weight="normal" fill="#111" >0</text>
<line x1="994.0" y1="487.2" x2="1003.0" y2="487.2" stroke="#2a2a2a" stroke-width="3" />
<text x="991.5" y="498.9" font-size="32.5" text-anchor="end" font-weight="normal" fill="#111" >0.5</text>
<line x1="994.0" y1="261.7" x2="1003.0" y2="261.7" stroke="#2a2a2a" stroke-width="3" />
<text x="991.5" y="273.4" font-size="32.5" text-anchor="end" font-weight="normal" fill="#111" >1.0</text>
<line x1="994.0" y1="34.0" x2="1003.0" y2="34.0" stroke="#2a2a2a" stroke-width="3" />
<text x="991.5" y="45.7" font-size="32.5" text-anchor="end" font-weight="normal" fill="#111" >1.5</text>
<line x1="1029.8" y1="744.5" x2="1029.8" y2="753.0" stroke="#2a2a2a" stroke-width="3.4" />
<text x="1029.7" y="782.2" font-size="32.5" text-anchor="middle" font-weight="normal" fill="#111" >α1</text>
<line x1="1071.9" y1="744.5" x2="1071.9" y2="753.0" stroke="#2a2a2a" stroke-width="3.4" />
<text x="1074.4" y="782.2" font-size="32.5" text-anchor="middle" font-weight="normal" fill="#111" >α2</text>
<line x1="1117.4" y1="744.5" x2="1117.4" y2="753.0" stroke="#2a2a2a" stroke-width="3.4" />
<text x="1119.8" y="782.2" font-size="32.5" text-anchor="middle" font-weight="normal" fill="#111" >α3</text>
<line x1="1162.2" y1="744.5" x2="1162.2" y2="753.0" stroke="#2a2a2a" stroke-width="3.4" />
<text x="1165.3" y="782.2" font-size="32.5" text-anchor="middle" font-weight="normal" fill="#111" >α4</text>
<line x1="1207.7" y1="744.5" x2="1207.7" y2="753.0" stroke="#2a2a2a" stroke-width="3.4" />
<text x="1207.5" y="782.2" font-size="32.5" text-anchor="middle" font-weight="normal" fill="#111" >α5</text>
<line x1="1249.8" y1="744.5" x2="1249.8" y2="753.0" stroke="#2a2a2a" stroke-width="3.4" />
<text x="1251.8" y="782.2" font-size="32.5" text-anchor="middle" font-weight="normal" fill="#111" >α6</text>
<line x1="1295.1" y1="744.5" x2="1295.1" y2="753.0" stroke="#2a2a2a" stroke-width="3.4" />
<text x="1296.4" y="782.2" font-size="32.5" text-anchor="middle" font-weight="normal" fill="#111" >β1</text>
<line x1="1337.1" y1="744.5" x2="1337.1" y2="753.0" stroke="#2a2a2a" stroke-width="3.4" />
<text x="1342.8" y="782.2" font-size="32.5" text-anchor="middle" font-weight="normal" fill="#111" >β2</text>
<line x1="1382.0" y1="744.5" x2="1382.0" y2="753.0" stroke="#2a2a2a" stroke-width="3.4" />
<text x="1385.9" y="782.2" font-size="32.5" text-anchor="middle" font-weight="normal" fill="#111" >β3</text>
<line x1="1427.4" y1="744.5" x2="1427.4" y2="753.0" stroke="#2a2a2a" stroke-width="3.4" />
<text x="1427.5" y="782.2" font-size="32.5" text-anchor="middle" font-weight="normal" fill="#111" >δ</text>
<line x1="1469.3" y1="744.5" x2="1469.3" y2="753.0" stroke="#2a2a2a" stroke-width="3.4" />
<text x="1474.7" y="782.2" font-size="32.5" text-anchor="middle" font-weight="normal" fill="#111" >γ2</text>
<text transform="translate(917.8,358.6) rotate(-90)" x="0" y="0" font-size="31" text-anchor="middle" fill="#111">Mean normalized Spectral Index (x10<tspan font-size="18.6" dy="-11.8">-4</tspan><tspan dy="11.8">)</tspan></text>
<text x="0.5" y="867.0" font-size="38" text-anchor="start" font-weight="bold" fill="#111" >c)</text>
<text x="714.0" y="867.0" font-size="38" text-anchor="start" font-weight="bold" fill="#111" >d)</text>
<text x="471.9" y="863.5" font-size="32.3" text-anchor="middle" font-weight="normal" fill="#111" >9E10 IP x2</text>
<text x="471.9" y="901.0" font-size="32.3" text-anchor="middle" font-weight="normal" fill="#111" >Coomassie</text>
<line x1="376.3" y1="915.2" x2="564.6" y2="912.3" stroke="#111" stroke-width="3.4" />
<text x="431.4" y="950.6" font-size="32.3" text-anchor="middle" font-weight="normal" fill="#111" >WT</text>
<text x="513.6" y="950.6" font-size="32.3" text-anchor="middle" font-weight="normal" fill="#111" >pHα2</text>
<g clip-path="url(#c18)">
<rect x="388.0" y="958.5" width="181.7" height="620.1" fill="url(#g19)" />
<g filter="url(#f20)">
<path d="M491,950 Q485,1120 483,1300 L482,1590 L552,1590 L553,950 Z" fill="url(#g21)"/>
</g>
<g filter="url(#f22)">
<path d="M489,965 Q484,1120 483,1450 L495,1450 Q497,1120 500,965 Z" fill="url(#g23)"/>
<rect x="533.0" y="965.0" width="13.0" height="450.0" fill="url(#g24)" />
<rect x="546.0" y="965.0" width="6.0" height="400.0" fill="#FFFFFF" opacity="0.12"/>
</g>
</g>
<rect x="389.5" y="960.0" width="178.7" height="617.1" fill="none" stroke="#111" stroke-width="3"/>
<line x1="367.0" y1="1003.6" x2="382.3" y2="1003.6" stroke="#111" stroke-width="3" />
<text x="354.6" y="1016.4" font-size="33" text-anchor="end" font-weight="normal" fill="#111" >1236</text>
<line x1="367.0" y1="1091.4" x2="382.3" y2="1091.4" stroke="#111" stroke-width="3" />
<text x="354.6" y="1109.8" font-size="33" text-anchor="end" font-weight="normal" fill="#111" >1048</text>
<line x1="367.0" y1="1183.4" x2="382.3" y2="1183.4" stroke="#111" stroke-width="3" />
<text x="354.6" y="1202.6" font-size="33" text-anchor="end" font-weight="normal" fill="#111" >720</text>
<line x1="367.0" y1="1284.0" x2="382.3" y2="1284.0" stroke="#111" stroke-width="3" />
<text x="354.6" y="1300.1" font-size="33" text-anchor="end" font-weight="normal" fill="#111" >480</text>
<line x1="367.0" y1="1412.1" x2="382.3" y2="1412.1" stroke="#111" stroke-width="3" />
<text x="354.6" y="1429.6" font-size="33" text-anchor="end" font-weight="normal" fill="#111" >242</text>
<line x1="364.8" y1="1510.2" x2="380.0" y2="1510.2" stroke="#111" stroke-width="3" />
<text x="354.6" y="1527.6" font-size="33" text-anchor="end" font-weight="normal" fill="#111" >146</text>
<text transform="translate(257.5,1264.0) rotate(-90)" x="0" y="0" font-size="31.5" text-anchor="middle" fill="#111">Molecular Mass kDa (10<tspan font-size="18.9" dy="-12.0">-3</tspan><tspan dy="12.0">)</tspan></text>
<text x="478.5" y="1616.4" font-size="32.7" text-anchor="middle" font-weight="normal" fill="#111" >BN-PAGE</text>
<path d="M575.0,1428.4 L602.5,1412.9 L598.0,1425.0 L622.6,1425.0 L622.6,1431.8 L598.0,1431.8 L602.5,1443.9 Z" fill="#D9261C"/>
<rect x="1003.0" y="867.5" width="493.0" height="749.9" fill="#F2F2F2" />
<line x1="1003.0" y1="1479.1" x2="1496.0" y2="1479.1" stroke="#FFFFFF" stroke-width="1.9" />
<line x1="1003.0" y1="1269.3" x2="1496.0" y2="1269.3" stroke="#FFFFFF" stroke-width="1.9" />
<line x1="1003.0" y1="1059.5" x2="1496.0" y2="1059.5" stroke="#FFFFFF" stroke-width="1.9" />
<line x1="1003.0" y1="1584.0" x2="1496.0" y2="1584.0" stroke="#FFFFFF" stroke-width="3.6" />
<line x1="1003.0" y1="1374.2" x2="1496.0" y2="1374.2" stroke="#FFFFFF" stroke-width="3.6" />
<line x1="1003.0" y1="1164.4" x2="1496.0" y2="1164.4" stroke="#FFFFFF" stroke-width="3.6" />
<line x1="1003.0" y1="954.6" x2="1496.0" y2="954.6" stroke="#FFFFFF" stroke-width="3.6" />
<line x1="1029.3" y1="867.5" x2="1029.3" y2="1617.4" stroke="#FFFFFF" stroke-width="3.7" />
<line x1="1073.3" y1="867.5" x2="1073.3" y2="1617.4" stroke="#FFFFFF" stroke-width="3.7" />
<line x1="1117.4" y1="867.5" x2="1117.4" y2="1617.4" stroke="#FFFFFF" stroke-width="3.7" />
<line x1="1161.4" y1="867.5" x2="1161.4" y2="1617.4" stroke="#FFFFFF" stroke-width="3.7" />
<line x1="1205.5" y1="867.5" x2="1205.5" y2="1617.4" stroke="#FFFFFF" stroke-width="3.7" />
<line x1="1249.5" y1="867.5" x2="1249.5" y2="1617.4" stroke="#FFFFFF" stroke-width="3.7" />
<line x1="1293.6" y1="867.5" x2="1293.6" y2="1617.4" stroke="#FFFFFF" stroke-width="3.7" />
<line x1="1337.6" y1="867.5" x2="1337.6" y2="1617.4" stroke="#FFFFFF" stroke-width="3.7" />
<line x1="1381.7" y1="867.5" x2="1381.7" y2="1617.4" stroke="#FFFFFF" stroke-width="3.7" />
<line x1="1425.8" y1="867.5" x2="1425.8" y2="1617.4" stroke="#FFFFFF" stroke-width="3.7" />
<line x1="1469.8" y1="867.5" x2="1469.8" y2="1617.4" stroke="#FFFFFF" stroke-width="3.7" />
<rect x="1009.5" y="1122.2" width="39.6" height="461.8" fill="#545050" />
<rect x="1053.5" y="1218.5" width="39.6" height="365.5" fill="#545050" />
<rect x="1097.6" y="1498.0" width="39.6" height="86.0" fill="#545050" />
<rect x="1141.6" y="1533.3" width="39.6" height="50.7" fill="#545050" />
<rect x="1185.7" y="1560.5" width="39.6" height="23.5" fill="#545050" />
<rect x="1273.8" y="1569.5" width="39.6" height="14.5" fill="#545050" />
<rect x="1317.8" y="1490.0" width="39.6" height="94.0" fill="#545050" />
<rect x="1361.9" y="1165.0" width="39.6" height="419.0" fill="#545050" />
<rect x="1450.0" y="1212.0" width="39.6" height="372.0" fill="#545050" />
<line x1="1029.3" y1="1003.6" x2="1029.3" y2="1241.2" stroke="#050505" stroke-width="3.3" />
<line x1="1024.7" y1="1003.6" x2="1033.9" y2="1003.6" stroke="#050505" stroke-width="3.6" />
<line x1="1024.7" y1="1241.2" x2="1033.9" y2="1241.2" stroke="#050505" stroke-width="3.6" />
<line x1="1073.3" y1="1108.0" x2="1073.3" y2="1331.0" stroke="#050505" stroke-width="3.3" />
<line x1="1068.8" y1="1108.0" x2="1077.9" y2="1108.0" stroke="#050505" stroke-width="3.6" />
<line x1="1068.8" y1="1331.0" x2="1077.9" y2="1331.0" stroke="#050505" stroke-width="3.6" />
<line x1="1112.8" y1="1348.6" x2="1122.0" y2="1348.6" stroke="#050505" stroke-width="3.6" />
<line x1="1156.8" y1="1447.3" x2="1166.0" y2="1447.3" stroke="#050505" stroke-width="3.6" />
<line x1="1337.6" y1="1385.0" x2="1337.6" y2="1582.2" stroke="#050505" stroke-width="3.3" />
<line x1="1333.0" y1="1385.0" x2="1342.2" y2="1385.0" stroke="#050505" stroke-width="3.6" />
<line x1="1333.0" y1="1582.2" x2="1342.2" y2="1582.2" stroke="#050505" stroke-width="3.6" />
<line x1="1381.7" y1="1004.8" x2="1381.7" y2="1324.8" stroke="#050505" stroke-width="3.3" />
<line x1="1377.1" y1="1004.8" x2="1386.3" y2="1004.8" stroke="#050505" stroke-width="3.6" />
<line x1="1377.1" y1="1324.8" x2="1386.3" y2="1324.8" stroke="#050505" stroke-width="3.6" />
<line x1="1469.8" y1="958.7" x2="1469.8" y2="1465.0" stroke="#050505" stroke-width="3.3" />
<line x1="1465.2" y1="958.7" x2="1474.4" y2="958.7" stroke="#050505" stroke-width="3.6" />
<line x1="1465.2" y1="1465.0" x2="1474.4" y2="1465.0" stroke="#050505" stroke-width="3.6" />
<ellipse cx="1029.3" cy="1042.9" rx="15.3" ry="13.6" fill="#F8807A"/>
<ellipse cx="1029.3" cy="1065.0" rx="15.3" ry="13.6" fill="#F8807A"/>
<ellipse cx="1029.3" cy="1258.9" rx="15.3" ry="13.6" fill="#F8807A"/>
<ellipse cx="1073.3" cy="1107.5" rx="15.3" ry="13.6" fill="#DC8C12"/>
<ellipse cx="1073.3" cy="1204.4" rx="15.3" ry="13.6" fill="#DC8C12"/>
<ellipse cx="1073.3" cy="1344.0" rx="15.3" ry="13.6" fill="#DC8C12"/>
<ellipse cx="1117.4" cy="1325.9" rx="15.3" ry="13.6" fill="#AFA124"/>
<ellipse cx="1117.4" cy="1584.0" rx="15.3" ry="13.6" fill="#AFA124"/>
<ellipse cx="1161.4" cy="1433.6" rx="15.3" ry="13.6" fill="#6BBA00"/>
<ellipse cx="1161.4" cy="1584.0" rx="15.3" ry="13.6" fill="#6BBA00"/>
<ellipse cx="1205.5" cy="1514.4" rx="15.3" ry="13.6" fill="#37BC48"/>
<ellipse cx="1205.5" cy="1584.0" rx="15.3" ry="13.6" fill="#37BC48"/>
<ellipse cx="1249.5" cy="1584.0" rx="15.3" ry="13.6" fill="#55D0B8"/>
<ellipse cx="1293.6" cy="1541.2" rx="15.3" ry="13.6" fill="#58C0DE"/>
<ellipse cx="1293.6" cy="1584.0" rx="15.3" ry="13.6" fill="#58C0DE"/>
<ellipse cx="1337.6" cy="1385.6" rx="15.3" ry="13.6" fill="#64A4D6"/>
<ellipse cx="1337.6" cy="1522.1" rx="15.3" ry="13.6" fill="#64A4D6"/>
<ellipse cx="1337.6" cy="1562.6" rx="15.3" ry="13.6" fill="#64A4D6"/>
<ellipse cx="1381.7" cy="984.9" rx="15.3" ry="13.6" fill="#B58CDB"/>
<ellipse cx="1381.7" cy="1218.6" rx="15.3" ry="13.6" fill="#B58CDB"/>
<ellipse cx="1381.7" cy="1290.7" rx="15.3" ry="13.6" fill="#B58CDB"/>
<ellipse cx="1425.8" cy="1584.0" rx="15.3" ry="13.6" fill="#D175C2"/>
<ellipse cx="1469.8" cy="920.6" rx="15.3" ry="13.6" fill="#E760A0"/>
<ellipse cx="1469.8" cy="1337.2" rx="15.3" ry="13.6" fill="#E760A0"/>
<ellipse cx="1469.8" cy="1377.9" rx="15.3" ry="13.6" fill="#E760A0"/>
<text x="1010.2" y="1005.8" font-size="50" text-anchor="middle" font-weight="normal" fill="#111" stroke="#111" stroke-width="0.7">*</text>
<text x="1031.8" y="1005.8" font-size="50" text-anchor="middle" font-weight="normal" fill="#111" stroke="#111" stroke-width="0.7">*</text>
<text x="1053.4" y="1005.8" font-size="50" text-anchor="middle" font-weight="normal" fill="#111" stroke="#111" stroke-width="0.7">*</text>
<text x="1056.5" y="1097.8" font-size="50" text-anchor="middle" font-weight="normal" fill="#111" stroke="#111" stroke-width="0.7">*</text>
<text x="1078.0" y="1097.8" font-size="50" text-anchor="middle" font-weight="normal" fill="#111" stroke="#111" stroke-width="0.7">*</text>
<text x="1099.6" y="1097.8" font-size="50" text-anchor="middle" font-weight="normal" fill="#111" stroke="#111" stroke-width="0.7">*</text>
<text x="1379.0" y="972.1" font-size="50" text-anchor="middle" font-weight="normal" fill="#111" stroke="#111" stroke-width="0.7">*</text>
<text x="1468.6" y="908.4" font-size="50" text-anchor="middle" font-weight="normal" fill="#111" stroke="#111" stroke-width="0.7">*</text>
<line x1="994.0" y1="1584.0" x2="1003.0" y2="1584.0" stroke="#2a2a2a" stroke-width="3" />
<text x="991.5" y="1595.7" font-size="32.5" text-anchor="end" font-weight="normal" fill="#111" >0</text>
<line x1="994.0" y1="1374.2" x2="1003.0" y2="1374.2" stroke="#2a2a2a" stroke-width="3" />
<text x="991.5" y="1385.9" font-size="32.5" text-anchor="end" font-weight="normal" fill="#111" >0.5</text>
<line x1="994.0" y1="1164.4" x2="1003.0" y2="1164.4" stroke="#2a2a2a" stroke-width="3" />
<text x="991.5" y="1176.1" font-size="32.5" text-anchor="end" font-weight="normal" fill="#111" >1.0</text>
<line x1="994.0" y1="954.6" x2="1003.0" y2="954.6" stroke="#2a2a2a" stroke-width="3" />
<text x="991.5" y="966.3" font-size="32.5" text-anchor="end" font-weight="normal" fill="#111" >1.5</text>
<line x1="1030.3" y1="1617.9" x2="1030.3" y2="1626.4" stroke="#2a2a2a" stroke-width="3.4" />
<text x="1030.1" y="1654.8" font-size="32.5" text-anchor="middle" font-weight="normal" fill="#111" >α1</text>
<line x1="1072.4" y1="1617.9" x2="1072.4" y2="1626.4" stroke="#2a2a2a" stroke-width="3.4" />
<text x="1075.0" y="1654.8" font-size="32.5" text-anchor="middle" font-weight="normal" fill="#111" >α2</text>
<line x1="1117.6" y1="1617.9" x2="1117.6" y2="1626.4" stroke="#2a2a2a" stroke-width="3.4" />
<text x="1120.7" y="1654.8" font-size="32.5" text-anchor="middle" font-weight="normal" fill="#111" >α3</text>
<line x1="1162.9" y1="1617.9" x2="1162.9" y2="1626.4" stroke="#2a2a2a" stroke-width="3.4" />
<text x="1165.8" y="1654.8" font-size="32.5" text-anchor="middle" font-weight="normal" fill="#111" >α4</text>
<line x1="1208.4" y1="1617.9" x2="1208.4" y2="1626.4" stroke="#2a2a2a" stroke-width="3.4" />
<text x="1208.3" y="1654.8" font-size="32.5" text-anchor="middle" font-weight="normal" fill="#111" >α5</text>
<line x1="1250.2" y1="1617.9" x2="1250.2" y2="1626.4" stroke="#2a2a2a" stroke-width="3.4" />
<text x="1252.5" y="1654.8" font-size="32.5" text-anchor="middle" font-weight="normal" fill="#111" >α6</text>
<line x1="1295.7" y1="1617.9" x2="1295.7" y2="1626.4" stroke="#2a2a2a" stroke-width="3.4" />
<text x="1297.0" y="1654.8" font-size="32.5" text-anchor="middle" font-weight="normal" fill="#111" >β1</text>
<line x1="1337.6" y1="1617.9" x2="1337.6" y2="1626.4" stroke="#2a2a2a" stroke-width="3.4" />
<text x="1343.0" y="1654.8" font-size="32.5" text-anchor="middle" font-weight="normal" fill="#111" >β2</text>
<line x1="1382.6" y1="1617.9" x2="1382.6" y2="1626.4" stroke="#2a2a2a" stroke-width="3.4" />
<text x="1386.6" y="1654.8" font-size="32.5" text-anchor="middle" font-weight="normal" fill="#111" >β3</text>
<line x1="1427.9" y1="1617.9" x2="1427.9" y2="1626.4" stroke="#2a2a2a" stroke-width="3.4" />
<text x="1428.0" y="1654.8" font-size="32.5" text-anchor="middle" font-weight="normal" fill="#111" >δ</text>
<line x1="1469.8" y1="1617.9" x2="1469.8" y2="1626.4" stroke="#2a2a2a" stroke-width="3.4" />
<text x="1475.2" y="1654.8" font-size="32.5" text-anchor="middle" font-weight="normal" fill="#111" >γ2</text>
<text transform="translate(920.7,1219.6) rotate(-90)" x="0" y="0" font-size="32.5" text-anchor="middle" fill="#111">Mean normalized Spectral Index (x10<tspan font-size="19.5" dy="-12.3">-4</tspan><tspan dy="12.3">)</tspan></text>
<text x="6.0" y="1714.5" font-size="38" text-anchor="start" font-weight="bold" fill="#111" >e)</text>
<text x="408.9" y="1737.3" font-size="32.3" text-anchor="middle" font-weight="normal" fill="#111" >α1 IP</text>
<text x="408.9" y="1774.5" font-size="32.3" text-anchor="middle" font-weight="normal" fill="#111" >WB α1</text>
<line x1="294.9" y1="1788.5" x2="522.6" y2="1788.5" stroke="#111" stroke-width="3.4" />
<text x="653.8" y="1737.3" font-size="32.3" text-anchor="middle" font-weight="normal" fill="#111" >α1 IP</text>
<text x="654.4" y="1774.5" font-size="32.3" text-anchor="middle" font-weight="normal" fill="#111" >Coomassie</text>
<line x1="538.4" y1="1788.5" x2="767.5" y2="1788.5" stroke="#111" stroke-width="3.4" />
<text x="216.8" y="1829.0" font-size="32.3" text-anchor="middle" font-weight="normal" fill="#111" >WB α1</text>
<text x="341.6" y="1829.0" font-size="32.3" text-anchor="middle" font-weight="normal" fill="#111" >IgG</text>
<text x="458.2" y="1829.0" font-size="32.3" text-anchor="middle" font-weight="normal" fill="#111" >α1</text>
<text x="585.0" y="1829.0" font-size="32.3" text-anchor="middle" font-weight="normal" fill="#111" >IgG</text>
<text x="702.2" y="1829.0" font-size="32.3" text-anchor="middle" font-weight="normal" fill="#111" >α1</text>
<g clip-path="url(#c25)">
<rect x="162.6" y="1840.1" width="116.4" height="583.9" fill="#F8F8F8" />
<g filter="url(#f26)">
<rect x="181.0" y="1845.0" width="72.0" height="600.0" fill="url(#g27)" />
</g>
<g filter="url(#f28)">
<rect x="180.0" y="1915.0" width="74.0" height="110.0" fill="url(#g29)" />
<rect x="178.0" y="2013.0" width="78.0" height="26.0" fill="#6E6A6A" />
<rect x="180.0" y="2036.0" width="74.0" height="26.0" fill="url(#g30)" />
<rect x="182.0" y="2287.0" width="72.0" height="30.0" fill="#E3E3E3" />
</g>
</g>
<rect x="164.1" y="1841.6" width="113.4" height="580.9" fill="none" stroke="#111" stroke-width="3"/>
<g clip-path="url(#c31)">
<rect x="293.9" y="1840.1" width="229.6" height="583.9" fill="#E9E9E9" />
<g filter="url(#f32)">
<rect x="415.0" y="1845.0" width="84.0" height="185.0" fill="url(#g33)" />
<rect x="415.0" y="2028.0" width="84.0" height="300.0" fill="url(#g34)" />
<rect x="418.0" y="2135.0" width="35.0" height="35.0" fill="#C8C8C8" />
<rect x="440.0" y="2024.0" width="34.0" height="22.0" fill="#404040" />
<rect x="415.0" y="2018.0" width="28.0" height="26.0" fill="#0C0C0C" />
<rect x="472.0" y="2018.0" width="27.0" height="26.0" fill="#151515" />
<rect x="415.0" y="2284.0" width="84.0" height="24.0" fill="#CBCBCB" />
<rect x="413.0" y="1845.0" width="4.0" height="455.0" fill="#A8A8A8" opacity="0.35"/>
</g>
</g>
<rect x="295.4" y="1841.6" width="226.6" height="580.9" fill="none" stroke="#111" stroke-width="3"/>
<g clip-path="url(#c35)">
<rect x="538.5" y="1840.1" width="229.4" height="583.9" fill="url(#g36)" />
<g filter="url(#f37)">
<rect x="656.0" y="1830.0" width="92.0" height="610.0" fill="url(#g38)" />
<rect x="748.0" y="1830.0" width="20.0" height="610.0" fill="url(#g39)" />
</g>
</g>
<rect x="540.0" y="1841.6" width="226.4" height="580.9" fill="none" stroke="#111" stroke-width="3"/>
<line x1="146.0" y1="1846.7" x2="163.0" y2="1846.7" stroke="#111" stroke-width="3" />
<text x="135.2" y="1853.8" font-size="33" text-anchor="end" font-weight="normal" fill="#111" >1236</text>
<line x1="146.0" y1="1944.1" x2="163.0" y2="1944.1" stroke="#111" stroke-width="3" />
<text x="135.2" y="1958.0" font-size="33" text-anchor="end" font-weight="normal" fill="#111" >1048</text>
<line x1="146.0" y1="2048.0" x2="163.0" y2="2048.0" stroke="#111" stroke-width="3" />
<text x="135.2" y="2062.6" font-size="33" text-anchor="end" font-weight="normal" fill="#111" >720</text>
<line x1="146.0" y1="2161.9" x2="163.0" y2="2161.9" stroke="#111" stroke-width="3" />
<text x="135.2" y="2172.9" font-size="33" text-anchor="end" font-weight="normal" fill="#111" >480</text>
<line x1="146.0" y1="2275.5" x2="163.0" y2="2275.5" stroke="#111" stroke-width="3" />
<text x="135.2" y="2288.2" font-size="33" text-anchor="end" font-weight="normal" fill="#111" >242</text>
<line x1="142.3" y1="2415.4" x2="159.5" y2="2415.4" stroke="#111" stroke-width="3" />
<text x="135.2" y="2425.7" font-size="33" text-anchor="end" font-weight="normal" fill="#111" >146</text>
<text transform="translate(41.8,2120.7) rotate(-90)" x="0" y="0" font-size="31.5" text-anchor="middle" fill="#111">Molecular Mass kDa (10<tspan font-size="18.9" dy="-12.0">-3</tspan><tspan dy="12.0">)</tspan></text>
<text x="216.8" y="2456.0" font-size="32.7" text-anchor="middle" font-weight="normal" fill="#111" >BN-PAGE</text>
<text x="407.5" y="2456.0" font-size="32.7" text-anchor="middle" font-weight="normal" fill="#111" >BN-PAGE</text>
<text x="652.0" y="2456.0" font-size="32.7" text-anchor="middle" font-weight="normal" fill="#111" >BN-PAGE</text>
<path d="M774.0,2038.8 L801.5,2023.3 L797.0,2035.4 L821.6,2035.4 L821.6,2042.2 L797.0,2042.2 L801.5,2054.3 Z" fill="#D9261C"/>
<path d="M774.0,2287.0 L801.5,2271.5 L797.0,2283.6 L821.6,2283.6 L821.6,2290.4 L797.0,2290.4 L801.5,2302.5 Z" fill="#D9261C"/>
<text x="861.0" y="1718.5" font-size="38" text-anchor="start" font-weight="bold" fill="#111" >f)</text>
<rect x="1004.0" y="1707.5" width="493.0" height="754.0" fill="#F2F2F2" />
<line x1="1004.0" y1="2317.9" x2="1497.0" y2="2317.9" stroke="#FFFFFF" stroke-width="1.9" />
<line x1="1004.0" y1="2098.6" x2="1497.0" y2="2098.6" stroke="#FFFFFF" stroke-width="1.9" />
<line x1="1004.0" y1="1879.3" x2="1497.0" y2="1879.3" stroke="#FFFFFF" stroke-width="1.9" />
<line x1="1004.0" y1="2427.6" x2="1497.0" y2="2427.6" stroke="#FFFFFF" stroke-width="3.6" />
<line x1="1004.0" y1="2208.3" x2="1497.0" y2="2208.3" stroke="#FFFFFF" stroke-width="3.6" />
<line x1="1004.0" y1="1989.0" x2="1497.0" y2="1989.0" stroke="#FFFFFF" stroke-width="3.6" />
<line x1="1004.0" y1="1769.7" x2="1497.0" y2="1769.7" stroke="#FFFFFF" stroke-width="3.6" />
<line x1="1030.2" y1="1707.5" x2="1030.2" y2="2461.5" stroke="#FFFFFF" stroke-width="3.7" />
<line x1="1074.2" y1="1707.5" x2="1074.2" y2="2461.5" stroke="#FFFFFF" stroke-width="3.7" />
<line x1="1118.3" y1="1707.5" x2="1118.3" y2="2461.5" stroke="#FFFFFF" stroke-width="3.7" />
<line x1="1162.3" y1="1707.5" x2="1162.3" y2="2461.5" stroke="#FFFFFF" stroke-width="3.7" />
<line x1="1206.4" y1="1707.5" x2="1206.4" y2="2461.5" stroke="#FFFFFF" stroke-width="3.7" />
<line x1="1250.5" y1="1707.5" x2="1250.5" y2="2461.5" stroke="#FFFFFF" stroke-width="3.7" />
<line x1="1294.5" y1="1707.5" x2="1294.5" y2="2461.5" stroke="#FFFFFF" stroke-width="3.7" />
<line x1="1338.5" y1="1707.5" x2="1338.5" y2="2461.5" stroke="#FFFFFF" stroke-width="3.7" />
<line x1="1382.6" y1="1707.5" x2="1382.6" y2="2461.5" stroke="#FFFFFF" stroke-width="3.7" />
<line x1="1426.7" y1="1707.5" x2="1426.7" y2="2461.5" stroke="#FFFFFF" stroke-width="3.7" />
<line x1="1470.7" y1="1707.5" x2="1470.7" y2="2461.5" stroke="#FFFFFF" stroke-width="3.7" />
<rect x="1010.4" y="1993.6" width="39.6" height="434.0" fill="#545050" />
<rect x="1054.5" y="2414.5" width="39.6" height="13.1" fill="#545050" />
<rect x="1098.5" y="2376.8" width="39.6" height="50.8" fill="#545050" />
<rect x="1142.5" y="2423.5" width="39.6" height="4.1" fill="#545050" />
<rect x="1186.6" y="2409.2" width="39.6" height="18.4" fill="#545050" />
<rect x="1230.7" y="2426.5" width="39.6" height="1.1" fill="#545050" />
<rect x="1274.7" y="2395.0" width="39.6" height="32.6" fill="#545050" />
<rect x="1318.8" y="2361.2" width="39.6" height="66.4" fill="#545050" />
<rect x="1362.8" y="2249.2" width="39.6" height="178.4" fill="#545050" />
<rect x="1406.9" y="2408.5" width="39.6" height="19.1" fill="#545050" />
<rect x="1450.9" y="2322.6" width="39.6" height="105.0" fill="#545050" />
<line x1="1030.2" y1="1796.0" x2="1030.2" y2="2190.8" stroke="#050505" stroke-width="3.3" />
<line x1="1025.6" y1="1796.0" x2="1034.8" y2="1796.0" stroke="#050505" stroke-width="3.6" />
<line x1="1025.6" y1="2190.8" x2="1034.8" y2="2190.8" stroke="#050505" stroke-width="3.6" />
<line x1="1118.3" y1="2338.3" x2="1118.3" y2="2415.3" stroke="#050505" stroke-width="3.3" />
<line x1="1113.7" y1="2338.3" x2="1122.9" y2="2338.3" stroke="#050505" stroke-width="3.6" />
<line x1="1113.7" y1="2415.3" x2="1122.9" y2="2415.3" stroke="#050505" stroke-width="3.6" />
<line x1="1201.8" y1="2381.2" x2="1211.0" y2="2381.2" stroke="#050505" stroke-width="3.6" />
<line x1="1338.5" y1="2312.0" x2="1338.5" y2="2409.5" stroke="#050505" stroke-width="3.3" />
<line x1="1334.0" y1="2312.0" x2="1343.1" y2="2312.0" stroke="#050505" stroke-width="3.6" />
<line x1="1334.0" y1="2409.5" x2="1343.1" y2="2409.5" stroke="#050505" stroke-width="3.6" />
<line x1="1382.6" y1="2129.4" x2="1382.6" y2="2369.0" stroke="#050505" stroke-width="3.3" />
<line x1="1378.0" y1="2129.4" x2="1387.2" y2="2129.4" stroke="#050505" stroke-width="3.6" />
<line x1="1378.0" y1="2369.0" x2="1387.2" y2="2369.0" stroke="#050505" stroke-width="3.6" />
<line x1="1470.7" y1="2256.0" x2="1470.7" y2="2389.2" stroke="#050505" stroke-width="3.3" />
<line x1="1466.1" y1="2256.0" x2="1475.3" y2="2256.0" stroke="#050505" stroke-width="3.6" />
<line x1="1466.1" y1="2389.2" x2="1475.3" y2="2389.2" stroke="#050505" stroke-width="3.6" />
<ellipse cx="1030.2" cy="1838.0" rx="15.3" ry="13.6" fill="#F8807A"/>
<ellipse cx="1030.2" cy="1860.3" rx="15.3" ry="13.6" fill="#F8807A"/>
<ellipse cx="1030.2" cy="1935.0" rx="15.3" ry="13.6" fill="#F8807A"/>
<ellipse cx="1030.2" cy="2008.5" rx="15.3" ry="13.6" fill="#F8807A"/>
<ellipse cx="1030.2" cy="2325.1" rx="15.3" ry="13.6" fill="#F8807A"/>
<ellipse cx="1074.2" cy="2403.1" rx="15.3" ry="13.6" fill="#DC8C12"/>
<ellipse cx="1074.2" cy="2413.6" rx="15.3" ry="13.6" fill="#DC8C12"/>
<ellipse cx="1118.3" cy="2311.6" rx="15.3" ry="13.6" fill="#AFA124"/>
<ellipse cx="1118.3" cy="2380.3" rx="15.3" ry="13.6" fill="#AFA124"/>
<ellipse cx="1118.3" cy="2391.7" rx="15.3" ry="13.6" fill="#AFA124"/>
<ellipse cx="1118.3" cy="2413.6" rx="15.3" ry="13.6" fill="#AFA124"/>
<ellipse cx="1162.3" cy="2414.0" rx="15.3" ry="13.6" fill="#6BBA00"/>
<ellipse cx="1162.3" cy="2428.5" rx="15.3" ry="13.6" fill="#6BBA00"/>
<ellipse cx="1206.4" cy="2360.5" rx="15.3" ry="13.6" fill="#37BC48"/>
<ellipse cx="1206.4" cy="2415.4" rx="15.3" ry="13.6" fill="#37BC48"/>
<ellipse cx="1206.4" cy="2425.9" rx="15.3" ry="13.6" fill="#37BC48"/>
<ellipse cx="1250.5" cy="2428.5" rx="15.3" ry="13.6" fill="#55D0B8"/>
<ellipse cx="1294.5" cy="2372.8" rx="15.3" ry="13.6" fill="#58C0DE"/>
<ellipse cx="1294.5" cy="2384.4" rx="15.3" ry="13.6" fill="#58C0DE"/>
<ellipse cx="1294.5" cy="2396.0" rx="15.3" ry="13.6" fill="#58C0DE"/>
<ellipse cx="1294.5" cy="2427.9" rx="15.3" ry="13.6" fill="#58C0DE"/>
<ellipse cx="1338.5" cy="2291.7" rx="15.3" ry="13.6" fill="#64A4D6"/>
<ellipse cx="1338.5" cy="2347.7" rx="15.3" ry="13.6" fill="#64A4D6"/>
<ellipse cx="1338.5" cy="2362.2" rx="15.3" ry="13.6" fill="#64A4D6"/>
<ellipse cx="1338.5" cy="2373.8" rx="15.3" ry="13.6" fill="#64A4D6"/>
<ellipse cx="1338.5" cy="2427.9" rx="15.3" ry="13.6" fill="#64A4D6"/>
<ellipse cx="1382.6" cy="2134.6" rx="15.3" ry="13.6" fill="#B58CDB"/>
<ellipse cx="1382.6" cy="2156.5" rx="15.3" ry="13.6" fill="#B58CDB"/>
<ellipse cx="1382.6" cy="2211.5" rx="15.3" ry="13.6" fill="#B58CDB"/>
<ellipse cx="1382.6" cy="2314.5" rx="15.3" ry="13.6" fill="#B58CDB"/>
<ellipse cx="1382.6" cy="2427.9" rx="15.3" ry="13.6" fill="#B58CDB"/>
<ellipse cx="1426.7" cy="2394.0" rx="15.3" ry="13.6" fill="#D175C2"/>
<ellipse cx="1426.7" cy="2407.6" rx="15.3" ry="13.6" fill="#D175C2"/>
<ellipse cx="1426.7" cy="2414.3" rx="15.3" ry="13.6" fill="#D175C2"/>
<ellipse cx="1426.7" cy="2427.9" rx="15.3" ry="13.6" fill="#D175C2"/>
<ellipse cx="1470.7" cy="2253.4" rx="15.3" ry="13.6" fill="#E760A0"/>
<ellipse cx="1470.7" cy="2276.8" rx="15.3" ry="13.6" fill="#E760A0"/>
<ellipse cx="1470.7" cy="2326.4" rx="15.3" ry="13.6" fill="#E760A0"/>
<ellipse cx="1470.7" cy="2427.9" rx="15.3" ry="13.6" fill="#E760A0"/>
<text x="1021.9" y="1795.0" font-size="38" text-anchor="middle" font-weight="normal" fill="#111" stroke="#111" stroke-width="0.7">*</text>
<text x="1039.4" y="1795.0" font-size="38" text-anchor="middle" font-weight="normal" fill="#111" stroke="#111" stroke-width="0.7">*</text>
<text x="1060.2" y="2398.1" font-size="38" text-anchor="middle" font-weight="normal" fill="#111" stroke="#111" stroke-width="0.7">*</text>
<text x="1077.7" y="2398.1" font-size="38" text-anchor="middle" font-weight="normal" fill="#111" stroke="#111" stroke-width="0.7">*</text>
<text x="1095.2" y="2398.1" font-size="38" text-anchor="middle" font-weight="normal" fill="#111" stroke="#111" stroke-width="0.7">*</text>
<text x="1118.3" y="2300.1" font-size="38" text-anchor="middle" font-weight="normal" fill="#111" stroke="#111" stroke-width="0.7">*</text>
<text x="1282.5" y="2362.9" font-size="38" text-anchor="middle" font-weight="normal" fill="#111" stroke="#111" stroke-width="0.7">*</text>
<text x="1300.0" y="2362.9" font-size="38" text-anchor="middle" font-weight="normal" fill="#111" stroke="#111" stroke-width="0.7">*</text>
<text x="1337.5" y="2282.8" font-size="38" text-anchor="middle" font-weight="normal" fill="#111" stroke="#111" stroke-width="0.7">*</text>
<text x="1381.3" y="2119.6" font-size="38" text-anchor="middle" font-weight="normal" fill="#111" stroke="#111" stroke-width="0.7">*</text>
<text x="1426.7" y="2379.4" font-size="38" text-anchor="middle" font-weight="normal" fill="#111" stroke="#111" stroke-width="0.7">*</text>
<text x="1459.2" y="2238.4" font-size="38" text-anchor="middle" font-weight="normal" fill="#111" stroke="#111" stroke-width="0.7">*</text>
<text x="1476.8" y="2238.4" font-size="38" text-anchor="middle" font-weight="normal" fill="#111" stroke="#111" stroke-width="0.7">*</text>
<line x1="995.0" y1="2427.6" x2="1004.0" y2="2427.6" stroke="#2a2a2a" stroke-width="3" />
<text x="992.5" y="2439.3" font-size="32.5" text-anchor="end" font-weight="normal" fill="#111" >0</text>
<line x1="995.0" y1="2208.3" x2="1004.0" y2="2208.3" stroke="#2a2a2a" stroke-width="3" />
<text x="992.5" y="2220.0" font-size="32.5" text-anchor="end" font-weight="normal" fill="#111" >0.5</text>
<line x1="995.0" y1="1989.0" x2="1004.0" y2="1989.0" stroke="#2a2a2a" stroke-width="3" />
<text x="992.5" y="2000.7" font-size="32.5" text-anchor="end" font-weight="normal" fill="#111" >1.0</text>
<line x1="995.0" y1="1769.7" x2="1004.0" y2="1769.7" stroke="#2a2a2a" stroke-width="3" />
<text x="992.5" y="1781.4" font-size="32.5" text-anchor="end" font-weight="normal" fill="#111" >1.5</text>
<line x1="1032.4" y1="2462.0" x2="1032.4" y2="2470.5" stroke="#2a2a2a" stroke-width="3.4" />
<text x="1032.3" y="2498.9" font-size="32.5" text-anchor="middle" font-weight="normal" fill="#111" >α1</text>
<line x1="1074.1" y1="2462.0" x2="1074.1" y2="2470.5" stroke="#2a2a2a" stroke-width="3.4" />
<text x="1076.8" y="2498.9" font-size="32.5" text-anchor="middle" font-weight="normal" fill="#111" >α2</text>
<line x1="1119.8" y1="2462.0" x2="1119.8" y2="2470.5" stroke="#2a2a2a" stroke-width="3.4" />
<text x="1122.5" y="2498.9" font-size="32.5" text-anchor="middle" font-weight="normal" fill="#111" >α3</text>
<line x1="1165.0" y1="2462.0" x2="1165.0" y2="2470.5" stroke="#2a2a2a" stroke-width="3.4" />
<text x="1167.6" y="2498.9" font-size="32.5" text-anchor="middle" font-weight="normal" fill="#111" >α4</text>
<line x1="1210.3" y1="2462.0" x2="1210.3" y2="2470.5" stroke="#2a2a2a" stroke-width="3.4" />
<text x="1210.3" y="2498.9" font-size="32.5" text-anchor="middle" font-weight="normal" fill="#111" >α5</text>
<line x1="1252.5" y1="2462.0" x2="1252.5" y2="2470.5" stroke="#2a2a2a" stroke-width="3.4" />
<text x="1255.0" y="2498.9" font-size="32.5" text-anchor="middle" font-weight="normal" fill="#111" >α6</text>
<line x1="1297.8" y1="2462.0" x2="1297.8" y2="2470.5" stroke="#2a2a2a" stroke-width="3.4" />
<text x="1299.1" y="2498.9" font-size="32.5" text-anchor="middle" font-weight="normal" fill="#111" >β1</text>
<line x1="1339.8" y1="2462.0" x2="1339.8" y2="2470.5" stroke="#2a2a2a" stroke-width="3.4" />
<text x="1345.0" y="2498.9" font-size="32.5" text-anchor="middle" font-weight="normal" fill="#111" >β2</text>
<line x1="1385.1" y1="2462.0" x2="1385.1" y2="2470.5" stroke="#2a2a2a" stroke-width="3.4" />
<text x="1388.6" y="2498.9" font-size="32.5" text-anchor="middle" font-weight="normal" fill="#111" >β3</text>
<line x1="1430.1" y1="2462.0" x2="1430.1" y2="2470.5" stroke="#2a2a2a" stroke-width="3.4" />
<text x="1430.4" y="2498.9" font-size="32.5" text-anchor="middle" font-weight="normal" fill="#111" >δ</text>
<line x1="1472.4" y1="2462.0" x2="1472.4" y2="2470.5" stroke="#2a2a2a" stroke-width="3.4" />
<text x="1477.9" y="2498.9" font-size="32.5" text-anchor="middle" font-weight="normal" fill="#111" >γ2</text>
<text transform="translate(940.7,2087.0) rotate(-90)" x="0" y="0" font-size="32.5" text-anchor="middle" fill="#111">Mean normalized Spectral Index (x10<tspan font-size="19.5" dy="-12.3">-4</tspan><tspan dy="12.3">)</tspan></text>
</svg>
</body></html>
